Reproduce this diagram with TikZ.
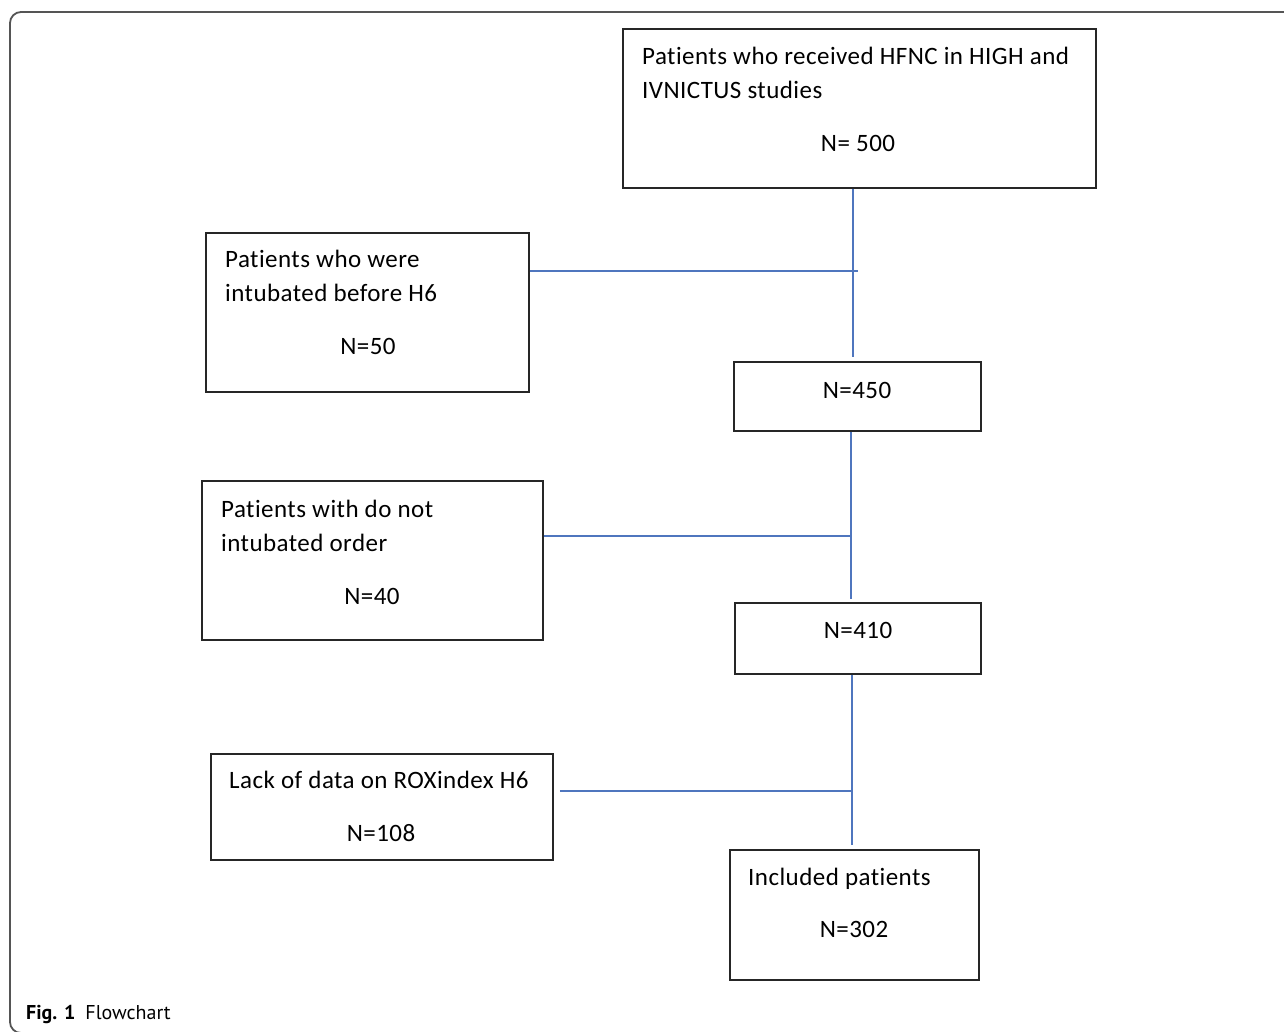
\documentclass[tikz,border=0pt]{standalone}
\usepackage{fontspec}
\setmainfont[Ligatures=NoCommon, LetterSpace=1.8]{Carlito}
\newfontfamily\capfont{PT Sans}
\usetikzlibrary{positioning}
\definecolor{linkblue}{RGB}{79,118,190}
\definecolor{framegray}{RGB}{85,85,85}

\begin{document}
\begin{tikzpicture}[x=1pt, y=-1pt,
    box/.style = {draw=black!85, line width=1.6pt, inner sep=0},
    txt/.style = {inner sep=0, anchor=base west, font=\fontsize{25}{30}\selectfont},
    num/.style = {inner sep=0, anchor=base, font=\fontsize{25}{30}\selectfont},
    link/.style = {draw=linkblue, line width=1.3pt}]
    \useasboundingbox (0,0) rectangle (1284,1031);
    \clip (0,0) rectangle (1284,1031);
    \draw[framegray, line width=1.8pt, rounded corners=11pt] (10,12) rectangle (1330,1033);

    % boxes
    \node[box, minimum width=473pt, minimum height=159pt] (hfnc) at (859.5,108.5) {};
    \node[box, minimum width=323pt, minimum height=159pt] (intub) at (367.5,312.5) {};
    \node[box, minimum width=247pt, minimum height=69pt] (n450) at (857.5,396.5) {};
    \node[box, minimum width=341pt, minimum height=159pt] (dnio) at (372.5,560.5) {};
    \node[box, minimum width=246pt, minimum height=71pt] (n410) at (858,638.5) {};
    \node[box, minimum width=342pt, minimum height=106pt] (roxl) at (382,807) {};
    \node[box, minimum width=249pt, minimum height=130pt] (incl) at (854.5,915) {};

    % texts
    \node[txt] (hfnc1) at (642,64) {Patients who received HFNC in HIGH and};
    \node[txt] (hfnc2) at (642,98) {IVNICTUS studies};
    \node[num] (hfncn) at (858,151) {N= 500};
    \node[txt] (intub1) at (225,267) {Patients who were};
    \node[txt] (intub2) at (225,301) {intubated before H6};
    \node[num] (intubn) at (368,354) {N=50};
    \node[num] (n450t) at (857,398) {N=450};
    \node[txt] (dnio1) at (221,517) {Patients with do not};
    \node[txt] (dnio2) at (221,551) {intubated order};
    \node[num] (dnion) at (372,604) {N=40};
    \node[num] (n410t) at (858,638) {N=410};
    \node[txt] (roxl1) at (229,788) {Lack of data on ROXindex H6};
    \node[num] (roxln) at (381,841) {N=108};
    \node[txt] (incl1) at (748,885) {Included patients};
    \node[num] (incln) at (854,937) {N=302};

    % connectors
    \coordinate (j1) at (853,271);
    \coordinate (j2) at (851,536);
    \coordinate (j3) at (852,791);
    \draw[link] (hfnc.south -| j1) -- ([yshift=4pt]n450.north -| j1);
    \draw[link] (intub.east |- j1) -- ([xshift=5pt]j1);
    \draw[link] (n450.south -| j2) -- ([yshift=3pt]n410.north -| j2);
    \draw[link] (dnio.east |- j2) -- (j2);
    \draw[link] (n410.south -| j3) -- ([yshift=4pt]incl.north -| j3);
    \draw[link] ([xshift=6pt]roxl.east |- j3) -- (j3);

    \node[inner sep=0, anchor=base west, font=\capfont\fontsize{20}{24}\selectfont] (cap) at (26,1019)
        {\textbf{Fig. 1}\hspace{10pt}Flowchart};
\end{tikzpicture}
\end{document}
